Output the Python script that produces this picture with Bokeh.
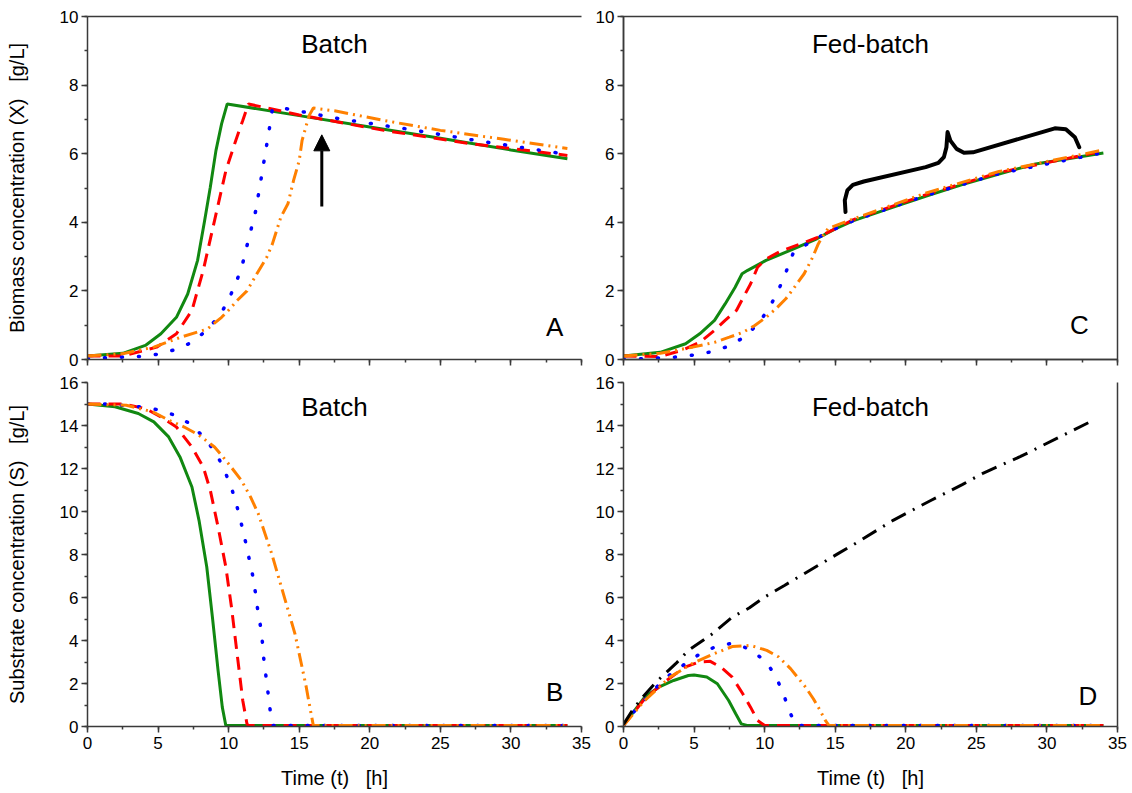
from bokeh.plotting import figure
from bokeh.models import (Range1d, SingleIntervalTicker, LinearAxis, FixedTicker,
                          Label, Arrow, NormalHead, CustomJSTickFormatter)
from bokeh.layouts import column, row
from bokeh.embed import file_html
from bokeh.resources import INLINE

# ---------------- data ----------------
# Panel A: batch biomass X [g/L]
gA_t = [0, 2.5, 4.1, 5.2, 6.3, 7.1, 7.8, 8.3, 8.7, 9.1, 9.5, 9.9, 15, 20, 25, 30, 34]
gA_x = [0.1, 0.18, 0.41, 0.75, 1.23, 1.91, 2.89, 4.05, 5.02, 6.09, 6.87, 7.45, 7.11, 6.78, 6.45, 6.11, 5.85]
rA_t = [0, 2.5, 4.9, 6.3, 7.4, 8.2, 9.0, 9.8, 10.5, 11.0, 11.4, 15, 21, 27, 34]
rA_x = [0.1, 0.1, 0.36, 0.75, 1.43, 2.6, 4.05, 5.5, 6.38, 6.97, 7.45, 7.13, 6.68, 6.3, 5.95]
bA_t = [0, 1.3, 3.7, 4.9, 6.15, 7.3, 8.45, 9.45, 10.1, 10.6, 11.0, 11.3, 11.6, 11.9, 12.1,
        12.3, 12.5, 12.7, 12.9, 13.1, 14.1, 15.4, 17.8, 22.5, 27.6, 34]
bA_x = [0.02, 0.05, 0.09, 0.15, 0.28, 0.48, 0.85, 1.33, 1.84, 2.32, 2.81, 3.32, 3.81, 4.3, 4.78,
        5.27, 5.77, 6.27, 6.77, 7.3, 7.31, 7.21, 7.02, 6.73, 6.38, 5.98]
oA_t = [0, 2.5, 4.7, 6.6, 8.5, 9.5, 10.1, 10.6, 11.3, 12.0, 12.7, 13.1, 13.7, 14.2, 14.6, 15.0,
        15.2, 15.5, 15.7, 16.0, 17.5, 21, 25, 29.5, 34]
oA_x = [0.1, 0.17, 0.36, 0.65, 0.89, 1.23, 1.48, 1.72, 2.0, 2.5, 2.98, 3.37, 4.15, 4.54, 5.22, 5.8,
        6.38, 6.82, 7.11, 7.33, 7.25, 6.97, 6.68, 6.42, 6.15]

# Panel B: batch substrate S [g/L]
gB_t = [0, 1.95, 3.6, 4.7, 5.75, 6.55, 7.4, 7.9, 8.45, 8.85, 9.25, 9.55, 9.8, 34]
gB_s = [15.0, 14.87, 14.56, 14.17, 13.47, 12.54, 11.14, 9.59, 7.42, 5.09, 2.61, 0.9, 0.05, 0.05]
rB_t = [0, 2.5, 4.1, 5.2, 6.3, 7.4, 8.2, 8.7, 9.25, 9.8, 10.2, 10.6, 11.0, 11.3, 11.4, 34]
rB_s = [15.0, 15.0, 14.79, 14.4, 13.93, 13.0, 12.07, 10.99, 9.28, 7.42, 5.56, 3.38, 1.21, 0.12, 0.05, 0.05]
bB_t = [0, 1.3, 3.7, 4.9, 6.15, 7.3, 8.45, 9.25, 9.8, 10.25, 10.6, 10.9, 11.2, 11.45, 11.7, 11.9,
        12.05, 12.25, 12.4, 12.5, 12.65, 12.8, 12.95, 13.15, 34]
bB_s = [15.0, 15.0, 14.87, 14.74, 14.49, 14.07, 13.31, 12.54, 11.76, 10.99, 10.21, 9.43, 8.58, 7.81,
        7.03, 6.22, 5.46, 4.69, 3.88, 3.07, 2.3, 1.52, 0.71, 0.05, 0.05]
oB_t = [0, 2.75, 4.65, 5.75, 6.85, 7.9, 9.0, 9.8, 10.35, 10.9, 11.55, 12.1, 12.5, 13.05, 13.6,
        14.15, 14.7, 15.1, 15.5, 15.8, 16.0, 34]
oB_s = [15.0, 14.94, 14.63, 14.25, 13.93, 13.55, 13.0, 12.38, 11.92, 11.45, 10.68, 9.9, 9.12, 8.04,
        6.8, 5.56, 4.31, 3.07, 1.83, 0.74, 0.05, 0.05]

# Panel C: fed-batch biomass X [g/L]
gC_t = [0, 2.6, 4.4, 5.4, 6.45, 7.2, 7.9, 8.4, 8.8, 10.1, 12.1, 13.7, 15.0, 16.3, 18.8, 21.4,
        24.0, 26.6, 29.2, 34]
gC_x = [0.1, 0.21, 0.46, 0.75, 1.14, 1.62, 2.1, 2.5, 2.6, 2.89, 3.23, 3.52, 3.81, 4.05, 4.4, 4.76,
        5.1, 5.41, 5.7, 6.02]
rC_t = [0, 2.6, 4.1, 5.4, 6.45, 7.2, 8.0, 8.5, 9.0, 9.5, 10.1, 11.1, 13.7, 16.3, 21.4, 26.6, 34]
rC_x = [0.1, 0.09, 0.26, 0.5, 0.85, 1.14, 1.43, 1.82, 2.2, 2.69, 2.93, 3.15, 3.55, 4.08, 4.8,
        5.45, 6.08]
bC_t = [0, 1.3, 2.6, 3.7, 4.95, 6.15, 7.4, 8.55, 9.65, 10.45, 11.05, 11.55, 12.0, 13.2, 14.5,
        16.3, 21.4, 26.6, 34]
bC_x = [0.0, 0.02, 0.05, 0.07, 0.13, 0.22, 0.38, 0.65, 1.09, 1.6, 2.09, 2.59, 3.08, 3.42, 3.72,
        4.05, 4.78, 5.42, 6.03]
oC_t = [0, 2.6, 4.9, 6.45, 7.5, 8.5, 9.3, 10.1, 10.8, 11.5, 12.1, 12.8, 13.4, 13.8, 14.2, 14.5,
        16.3, 21.4, 26.6, 34]
oC_x = [0.1, 0.18, 0.36, 0.5, 0.65, 0.8, 0.99, 1.23, 1.48, 1.77, 2.1, 2.5, 2.98, 3.37, 3.66, 3.82,
        4.1, 4.85, 5.48, 6.11]

# Panel D: fed-batch substrate S [g/L]
kD_t = [0, 0.7, 1.4, 2.3, 3.7, 4.6, 6.3, 7.7, 8.9, 10.0, 11.4, 13.6, 15.2, 16.6, 19.1, 21.7,
        24.0, 25.5, 28.1, 30.7, 33.3]
kD_s = [0.1, 0.82, 1.4, 2.06, 2.92, 3.54, 4.31, 5.09, 5.51, 6.02, 6.56, 7.42, 8.04, 8.58, 9.59,
        10.49, 11.25, 11.79, 12.55, 13.4, 14.25]
gD_t = [0, 0.7, 1.5, 2.5, 3.55, 4.6, 5.0, 5.9, 6.65, 7.45, 7.95, 8.35, 8.75, 34]
gD_s = [0.05, 0.67, 1.37, 1.83, 2.14, 2.37, 2.4, 2.3, 1.99, 1.21, 0.59, 0.12, 0.05, 0.05]
rD_t = [0, 1.5, 3.05, 4.35, 5.35, 6.15, 6.9, 7.7, 8.45, 9.0, 9.5, 10.0, 34]
rD_s = [0.05, 1.29, 2.14, 2.76, 3.0, 3.03, 2.76, 2.3, 1.52, 0.9, 0.28, 0.05, 0.05]
bD_t = [0, 0.85, 2.9, 4.2, 5.35, 6.6, 7.8, 8.9, 10.1, 10.85, 11.35, 11.8, 12.2, 34]
bD_s = [0.05, 0.78, 2.22, 2.84, 3.35, 3.74, 3.88, 3.6, 3.03, 2.25, 1.47, 0.65, 0.05, 0.05]
oD_t = [0, 1.5, 3.3, 4.85, 6.4, 7.7, 9.0, 10.15, 11.0, 11.85, 12.9, 13.45, 13.9, 14.3, 14.55, 34]
oD_s = [0.05, 1.21, 2.3, 2.92, 3.38, 3.72, 3.77, 3.54, 3.23, 2.68, 1.83, 1.29, 0.78, 0.28, 0.05, 0.05]

# annotations
arrow_t = [16.6, 16.6]
arrow_x = [4.46, 6.55]
brace_t = [15.73, 15.68, 15.86, 16.25, 17.02, 21.41, 22.31, 22.70, 22.88, 22.96, 23.16, 23.6,
           24.12, 24.76, 29.66, 30.56, 31.34, 31.98, 32.29]
brace_x = [4.30, 4.64, 4.93, 5.09, 5.19, 5.61, 5.73, 5.90, 6.19, 6.63, 6.38, 6.14,
           6.03, 6.04, 6.63, 6.74, 6.71, 6.48, 6.19]

titles = ["Batch", "Batch", "Fed-batch", "Fed-batch"]
letters = ["A", "B", "C", "D"]
x_ticks_interval = 5
SP = "\u00a0\u00a0\u00a0"
ylabel_X = "Biomass concentration (X)" + SP + "[g/L]"
ylabel_S = "Substrate concentration (S)" + SP + "[g/L]"
xlabel = "Time (t)" + SP + "[h]"

# ---------------- styling ----------------
FONT = "Liberation Sans"
AX = "#3a3a3a"
GREEN = "#118811"
RED = "#ff0000"
BLUE = "#0000ff"
ORANGE = "#ff8000"
LW = 3


def style_axis(ax, labels=True):
    ax.axis_line_color = AX
    ax.axis_line_width = 1.5
    ax.major_tick_line_color = AX
    ax.minor_tick_line_color = AX
    ax.major_tick_line_width = 1.5
    ax.minor_tick_line_width = 1.5
    ax.major_tick_out = 6
    ax.major_tick_in = 0
    ax.minor_tick_out = 3
    ax.minor_tick_in = 0
    ax.major_label_text_font = FONT
    ax.major_label_text_font_size = "17px"
    ax.major_label_text_color = "black"
    ax.axis_label_text_font = FONT
    ax.axis_label_text_font_size = "20px"
    ax.axis_label_text_font_style = "normal"
    ax.axis_label_text_color = "black"
    if not labels:
        ax.formatter = CustomJSTickFormatter(code="return '';")
        ax.major_label_text_font_size = "1px"
        ax.major_label_standoff = 0


def bare_axis():
    ax = LinearAxis(ticker=FixedTicker(ticks=[]))
    ax.axis_line_color = AX
    ax.axis_line_width = 1.5
    ax.major_tick_out = 0
    ax.major_tick_in = 0
    ax.minor_tick_out = 0
    ax.minor_tick_in = 0
    ax.major_label_standoff = 0
    return ax


def make_fig(width, height, ymax, borders, xlabels, ylab):
    l, r, t, b = borders
    p = figure(width=width, height=height, output_backend="svg", toolbar_location=None,
               x_range=Range1d(0, 35), y_range=Range1d(0, ymax),
               min_border_left=l, min_border_right=r, min_border_top=t, min_border_bottom=b)
    p.margin = 0
    p.background_fill_color = "white"
    p.border_fill_color = "white"
    p.outline_line_color = None
    p.xgrid.grid_line_color = None
    p.ygrid.grid_line_color = None
    p.xaxis.ticker = SingleIntervalTicker(interval=x_ticks_interval, num_minor_ticks=2)
    p.yaxis.ticker = SingleIntervalTicker(interval=2, num_minor_ticks=2)
    style_axis(p.xaxis[0], labels=xlabels)
    style_axis(p.yaxis[0], labels=True)
    p.yaxis.major_label_standoff = 3
    if xlabels:
        p.xaxis.major_label_standoff = 4
        p.xaxis.axis_label = xlabel
        p.xaxis.axis_label_standoff = 15
    if ylab:
        p.yaxis.axis_label = ylab
        p.yaxis.axis_label_standoff = 29
    return p


def curves(p, series):
    (gt, gy), (rt, ry), (bt, by), (ot, oy) = series
    p.line(gt, gy, line_color=GREEN, line_width=LW)
    p.line(rt, ry, line_color=RED, line_width=LW, line_dash="13 8")
    p.line(bt, by, line_color=BLUE, line_width=LW + 0.5, line_dash="1 16", line_cap="round")
    p.line(ot, oy, line_color=ORANGE, line_width=LW, line_dash="14 5 2 5 2 5")


def add_text(p, x, y, txt, size):
    p.add_layout(Label(x=x, y=y, text=txt, text_font=FONT, text_font_size=size,
                       text_align="center", text_baseline="middle", text_color="black"))


W1, W2 = 591, 541
H1, H2 = 368, 425

pA = make_fig(W1, H1, 10, (87, 10, 16, 9), False, ylabel_X)
pA.add_layout(bare_axis(), "above")
curves(pA, [(gA_t, gA_x), (rA_t, rA_x), (bA_t, bA_x), (oA_t, oA_x)])
pA.add_layout(Arrow(end=NormalHead(size=16, fill_color="black", line_color="black", line_width=1),
                    x_start=arrow_t[0], y_start=arrow_x[0], x_end=arrow_t[1], y_end=arrow_x[1],
                    line_color="black", line_width=3))
add_text(pA, 17.5, 9.2, titles[0], "26px")
add_text(pA, 33.1, 0.95, letters[0], "26px")

pC = make_fig(W2, H1, 10, (32, 15, 16, 9), False, None)
pC.outline_line_color = AX
pC.outline_line_width = 1.5
curves(pC, [(gC_t, gC_x), (rC_t, rC_x), (bC_t, bC_x), (oC_t, oC_x)])
pC.line(brace_t, brace_x, line_color="black", line_width=4, line_join="round", line_cap="round")
add_text(pC, 17.5, 9.2, titles[2], "26px")
add_text(pC, 32.3, 1.0, letters[2], "26px")

pB = make_fig(W1, H2, 16, (87, 10, 14, 67), True, ylabel_S)
curves(pB, [(gB_t, gB_s), (rB_t, rB_s), (bB_t, bB_s), (oB_t, oB_s)])
add_text(pB, 17.5, 14.85, titles[1], "26px")
add_text(pB, 33.1, 1.6, letters[1], "26px")

pD = make_fig(W2, H2, 16, (32, 15, 14, 67), True, None)
pD.add_layout(bare_axis(), "right")
curves(pD, [(gD_t, gD_s), (rD_t, rD_s), (bD_t, bD_s), (oD_t, oD_s)])
pD.line(kD_t, kD_s, line_color="black", line_width=LW, line_dash="16 8 2 8")
add_text(pD, 17.5, 14.85, titles[3], "26px")
add_text(pD, 32.9, 1.4, letters[3], "26px")

top = row(pA, pC, spacing=0)
bottom = row(pB, pD, spacing=0)
layout = column(top, bottom, spacing=0)
top.margin = 0
bottom.margin = 0
layout.margin = 0

open("out.html", "w").write(file_html(layout, INLINE))
